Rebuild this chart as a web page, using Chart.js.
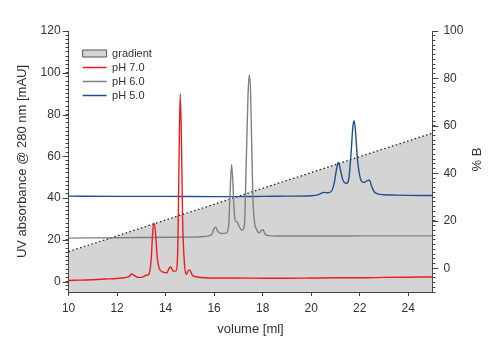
<!DOCTYPE html>
<html>
<head>
<meta charset="utf-8">
<script src="https://cdn.jsdelivr.net/npm/chart.js@4/dist/chart.umd.min.js"></script>
<style>
  html, body { margin: 0; padding: 0; background: #fff; }
  #wrap { width: 500px; height: 341px; }
</style>
</head>
<body>
<div id="wrap"><canvas id="chart"></canvas></div>
<script>
// gradient (% B, right axis)
var gradientVol = [10, 25];
var gradientB = [7, 57];

// pH 7.0 trace
var ph7Vol = [10.0, 10.5, 11.0, 11.5, 12.0, 12.3, 12.5, 12.6, 12.7, 12.85, 13.0, 13.2, 13.3, 13.4, 13.47, 13.52, 13.58, 13.65, 13.75, 13.9, 14.05, 14.15, 14.22, 14.3, 14.42, 14.5, 14.55, 14.6, 14.65, 14.7, 14.78, 14.85, 14.95, 15.0, 15.1, 15.3, 15.6, 16, 17, 18, 19, 20, 21, 22, 23, 24, 25];
var ph7Abs = [0.5, 0.7, 0.9, 1.2, 1.5, 1.8, 2.5, 3.6, 3.0, 2.0, 2.0, 3.0, 3.3, 10, 24, 28, 24, 12, 6, 4.5, 4.2, 6.5, 7.0, 5.0, 5.0, 15, 55, 90, 70, 30, 8, 3.5, 5.5, 5.5, 3.0, 2.2, 1.8, 1.7, 1.7, 1.6, 1.6, 1.7, 1.8, 1.8, 2.0, 2.1, 2.2];

// pH 6.0 trace
var ph6Vol = [10, 11, 12, 13, 14, 15, 15.6, 15.9, 16.0, 16.07, 16.15, 16.3, 16.5, 16.6, 16.65, 16.72, 16.77, 16.82, 16.88, 16.95, 17.05, 17.15, 17.25, 17.32, 17.4, 17.45, 17.5, 17.55, 17.6, 17.67, 17.75, 17.85, 17.95, 18.02, 18.1, 18.25, 18.6, 19, 20, 21, 22, 23, 24, 25];
var ph6Abs = [20.8, 20.9, 21.0, 21.1, 21.2, 21.3, 21.6, 22.5, 25.5, 26, 24, 23, 23.2, 27, 40, 56, 48, 35, 29, 28.5, 26, 24.5, 27, 55, 90, 99, 92, 65, 40, 28, 25, 23.3, 24.5, 24.8, 22.8, 22.0, 21.8, 21.8, 21.8, 21.8, 21.9, 21.9, 21.9, 21.9];

// pH 5.0 trace
var ph5Vol = [10, 12, 14, 16, 17, 18, 19, 20, 20.3, 20.45, 20.55, 20.7, 20.85, 20.95, 21.05, 21.12, 21.2, 21.3, 21.45, 21.55, 21.65, 21.72, 21.77, 21.83, 21.9, 22.0, 22.1, 22.2, 22.33, 22.4, 22.5, 22.6, 22.75, 23, 23.5, 24, 25];
var ph5Abs = [40.9, 40.8, 40.8, 40.7, 40.7, 40.8, 40.9, 41.1, 41.6, 42.5, 42.7, 42.5, 43.5, 47, 54, 57, 54, 49, 47, 49, 62, 74, 77, 72, 60, 51, 47.8, 47.5, 48.5, 48.6, 45.5, 43, 42, 41.6, 41.4, 41.3, 41.2];

var volumeTicks = [10, 12, 14, 16, 18, 20, 22, 24];
var absLabels = [0, 20, 40, 60, 80, 100, 120];
var bLabels = [0, 20, 40, 60, 80, 100];

function pts(xs, ys) {
  return xs.map(function (x, i) { return { x: x, y: ys[i] }; });
}

var textColor = "#333";
var axisColor = "#444";
var font = "'Liberation Sans', Arial, sans-serif";

// longer marks at the labelled values of the y axes,
// and the right axis title written bottom-to-top like the left one
var axisExtras = {
  id: "axisExtras",
  afterDraw: function (chart) {
    var ctx = chart.ctx;
    ctx.save();
    ctx.strokeStyle = axisColor;
    ctx.lineWidth = 1;
    var y = chart.scales.y, y1 = chart.scales.y1;
    absLabels.forEach(function (v) {
      var p = Math.round(y.getPixelForValue(v)) + 0.5;
      ctx.beginPath(); ctx.moveTo(y.right - 6, p); ctx.lineTo(y.right, p); ctx.stroke();
    });
    bLabels.forEach(function (v) {
      var p = Math.round(y1.getPixelForValue(v)) + 0.5;
      ctx.beginPath(); ctx.moveTo(y1.left, p); ctx.lineTo(y1.left + 6, p); ctx.stroke();
    });
    ctx.translate(y1.left + 45, (y1.top + y1.bottom) / 2 - 2);
    ctx.rotate(-Math.PI / 2);
    ctx.fillStyle = textColor;
    ctx.font = "13px " + font;
    ctx.textAlign = "center";
    ctx.textBaseline = "middle";
    ctx.fillText("% B", 0, 0);
    ctx.restore();
  }
};

// put the legend inside the plot, below its top left corner
var legendInset = {
  id: "legendInset",
  afterLayout: function (chart) {
    if (chart.legend) {
      chart.legend.left += 11;
      chart.legend.top += 45;
    }
  }
};

new Chart(document.getElementById("chart").getContext("2d"), {
  type: "line",
  data: {
    datasets: [
      {
        label: "gradient",
        data: pts(gradientVol, gradientB),
        yAxisID: "y1",
        borderColor: "#222",
        borderWidth: 1.3,
        borderDash: [1.5, 2.5],
        backgroundColor: "#d4d4d4",
        fill: "start",
        order: 10
      },
      {
        label: "pH 7.0",
        data: pts(ph7Vol, ph7Abs),
        yAxisID: "y",
        borderColor: "#ee1c1c",
        borderWidth: 1.4,
        cubicInterpolationMode: "monotone",
        order: 1
      },
      {
        label: "pH 6.0",
        data: pts(ph6Vol, ph6Abs),
        yAxisID: "y",
        borderColor: "#808080",
        borderWidth: 1.4,
        cubicInterpolationMode: "monotone",
        order: 2
      },
      {
        label: "pH 5.0",
        data: pts(ph5Vol, ph5Abs),
        yAxisID: "y",
        borderColor: "#1f4f91",
        borderWidth: 1.4,
        cubicInterpolationMode: "monotone",
        order: 3
      }
    ]
  },
  options: {
    responsive: true,
    maintainAspectRatio: false,
    animation: false,
    elements: { point: { radius: 0 } },
    layout: { padding: { top: 31, left: 15, right: 3, bottom: 4 } },
    plugins: {
      filler: { drawTime: "beforeDatasetsDraw" },
      tooltip: { enabled: false },
      legend: {
        position: "chartArea",
        align: "start",
        labels: {
          usePointStyle: true,
          pointStyleWidth: 24,
          boxHeight: 7,
          padding: 3,
          color: textColor,
          font: { family: font, size: 11 },
          generateLabels: function (chart) {
            return chart.data.datasets.map(function (ds, i) {
              var isGrad = i === 0;
              return {
                text: ds.label,
                datasetIndex: i,
                pointStyle: isGrad ? "rect" : "line",
                fillStyle: isGrad ? "#d4d4d4" : ds.borderColor,
                strokeStyle: isGrad ? "#555" : ds.borderColor,
                lineWidth: isGrad ? 1 : 1.3,
                lineDash: [],
                fontColor: textColor,
                hidden: false
              };
            });
          }
        }
      }
    },
    scales: {
      x: {
        type: "linear",
        min: 10,
        max: 25,
        grid: { drawOnChartArea: false, tickLength: 4, color: axisColor },
        border: { color: axisColor },
        ticks: {
          stepSize: 2,
          includeBounds: false,
          autoSkip: false,
          maxRotation: 0,
          color: textColor,
          padding: 5,
          font: { family: font, size: 12 },
          callback: function (v) { return volumeTicks.indexOf(v) >= 0 ? String(v) : ""; }
        },
        title: {
          display: true,
          text: "volume [ml]",
          color: textColor,
          padding: { top: 1, bottom: 0 },
          font: { family: font, size: 13 }
        }
      },
      y: {
        type: "linear",
        position: "left",
        min: -5,
        max: 120,
        grid: { drawOnChartArea: false, tickLength: 3, color: axisColor },
        border: { color: axisColor },
        ticks: {
          stepSize: 2,
          includeBounds: false,
          autoSkip: false,
          color: textColor,
          padding: 5,
          font: { family: font, size: 12 },
          callback: function (v) { return absLabels.indexOf(v) >= 0 ? String(v) : ""; }
        },
        title: {
          display: true,
          text: "UV absorbance @ 280 nm [mAU]",
          color: textColor,
          padding: { top: 0, bottom: 5 },
          font: { family: font, size: 13 }
        }
      },
      y1: {
        type: "linear",
        position: "right",
        min: -10,
        max: 100,
        grid: { drawOnChartArea: false, tickLength: 3, color: axisColor },
        border: { color: axisColor },
        ticks: {
          stepSize: 2,
          includeBounds: false,
          autoSkip: false,
          color: textColor,
          padding: 8,
          font: { family: font, size: 12 },
          callback: function (v) { return bLabels.indexOf(v) >= 0 ? String(v) : ""; }
        },
        // space is kept here; the text itself is drawn by axisExtras
        title: {
          display: true,
          text: "% B",
          color: "rgba(0,0,0,0)",
          padding: { top: 10, bottom: 0 },
          font: { family: font, size: 13 }
        }
      }
    }
  },
  plugins: [axisExtras, legendInset]
});
</script>
</body>
</html>
